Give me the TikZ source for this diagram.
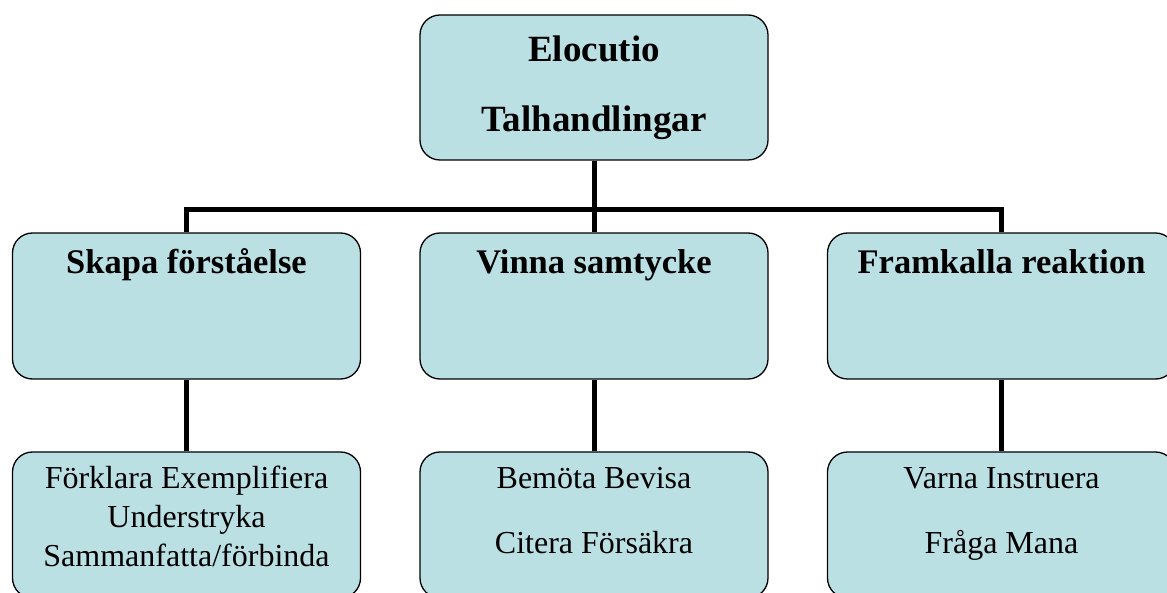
\documentclass[tikz,border=0pt]{standalone}
\usepackage{fontspec}
\setmainfont{Liberation Serif}
\usetikzlibrary{positioning}
\definecolor{boxfill}{RGB}{187,224,228}
\begin{document}
\begin{tikzpicture}[x=1pt, y=1pt,
box/.style={
	draw, rounded corners=20pt, fill=boxfill,
	line width=1.3pt, minimum width=348pt,
	inner sep=0pt, align=center, text=black
},
head/.style={box, font=\fontsize{34.5}{40}\selectfont\bfseries,
	text height=41pt, text depth=105pt},
leaf/.style={box, font=\fontsize{32}{39}\selectfont},
link/.style={line width=5pt}
]
\clip (0,0) rectangle (1167,592);
\node[box, minimum height=145pt, font=\fontsize{37}{70}\selectfont\bfseries] (E) at (594,504.5) {Elocutio\\Talhandlingar};
\node[head] (1) at (186.5,286) {Skapa förståelse};
\node[head] (2) at (594,286) {Vinna samtycke};
\node[head] (3) at (1001.5,286) {Framkalla reaktion};
\node[leaf, text height=114pt, text depth=32pt] (a) at (186.5,67) {Förklara Exemplifiera\\Understryka\\Sammanfatta/förbinda};
\node[leaf, text height=101pt, text depth=45pt] (b) at (594,67) {Bemöta Bevisa\\[26pt]Citera Försäkra};
\node[leaf, text height=101pt, text depth=45pt] (c) at (1001.5,67) {Varna Instruera\\[26pt]Fråga Mana};
\coordinate (H) at (594,382);
\draw[link] (E.south) -- (2.north);
\draw[link] (1.north) -- (1.north |- H) -- (3.north |- H) -- (3.north);
\foreach \i/\j in {1/a,2/b,3/c}
{
	\draw[link] (\i.south) -- (\j.north);
}
\end{tikzpicture}
\end{document}
